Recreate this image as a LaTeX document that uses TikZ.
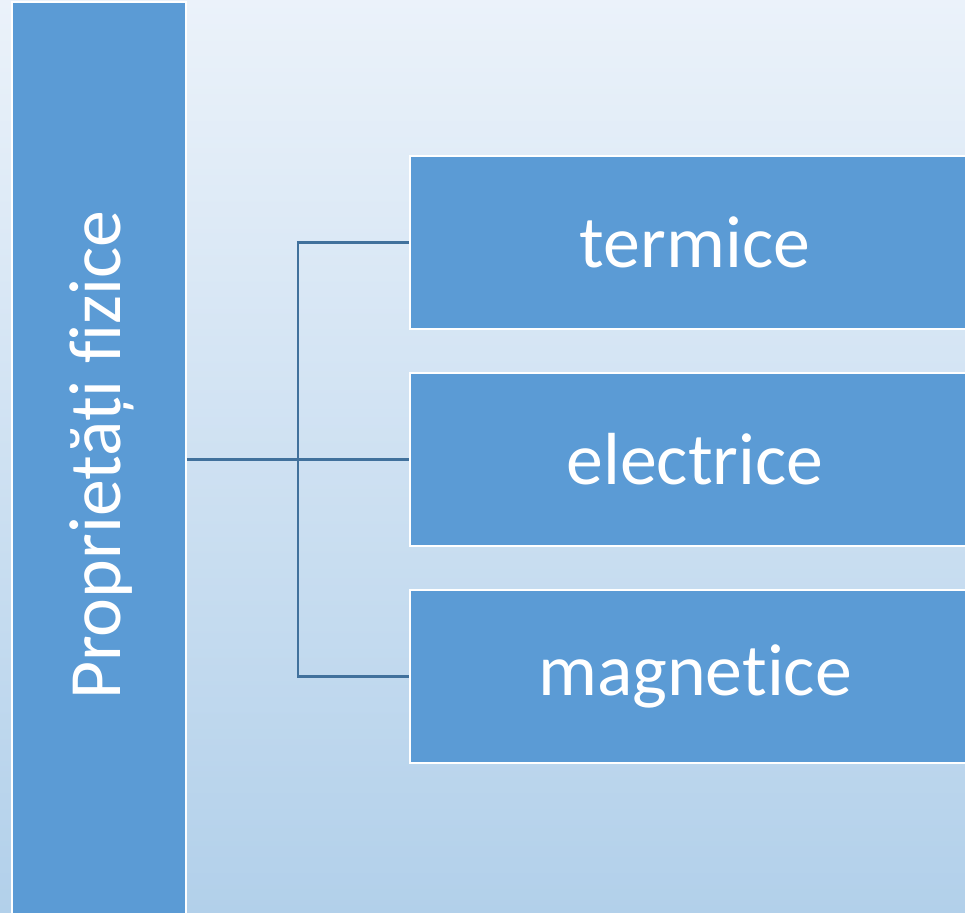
\documentclass[tikz,border=0pt]{standalone}
\usepackage{fontspec}
\setmainfont[Ligatures=NoCommon]{Carlito}
\usepackage{tikz}
\usetikzlibrary{positioning}

\definecolor{boxblue}{RGB}{91,155,213}
\definecolor{linkblue}{RGB}{65,113,156}
\definecolor{bgtop}{RGB}{235,242,250}
\definecolor{bgbottom}{RGB}{178,208,234}

\tikzset{
	mainbox/.style={draw=white, line width=1.1pt, fill=boxblue, inner sep=0pt,
		minimum width=3.48cm, minimum height=18.4cm},
	itembox/.style={draw=white, line width=1.1pt, fill=boxblue, text=white,
		font=\fontsize{42}{50}\selectfont, inner sep=0pt,
		minimum width=11.4cm, minimum height=3.46cm},
	link/.style={draw=linkblue, line width=1.5pt}
}

\begin{document}
\begin{tikzpicture}[x=0.02cm,y=-0.02cm]
				% Background
				\shade[top color=bgtop, bottom color=bgbottom] (0,0) rectangle (965,913);
				\useasboundingbox (0,0) rectangle (965,913);
				\clip (0,0) rectangle (965,913);
				
				% Main category
				\node[mainbox] (fizice) at (99,462) {};
				\node[rotate=90, text=white, font=\fontsize{42}{50}\selectfont]
				(fizicetext) at (102,455) {Proprietăți fizice};
				
				% Sub categories
				\node[itembox] (termice) at (695,242.5) {termice};
				\node[itembox, below=0.84cm of termice] (electrice) {electrice};
				\node[itembox, below=0.84cm of electrice] (magnetice) {magnetice};
				
				% Connectors
				\coordinate (trunk) at (298,0);
				\coordinate (branch) at (trunk |- electrice.west);
				\draw[link] (fizice.east |- electrice.west) -- (electrice.west);
				\draw[link] (termice.west) -| (branch) |- (magnetice.west);
			\end{tikzpicture}
\end{document}
